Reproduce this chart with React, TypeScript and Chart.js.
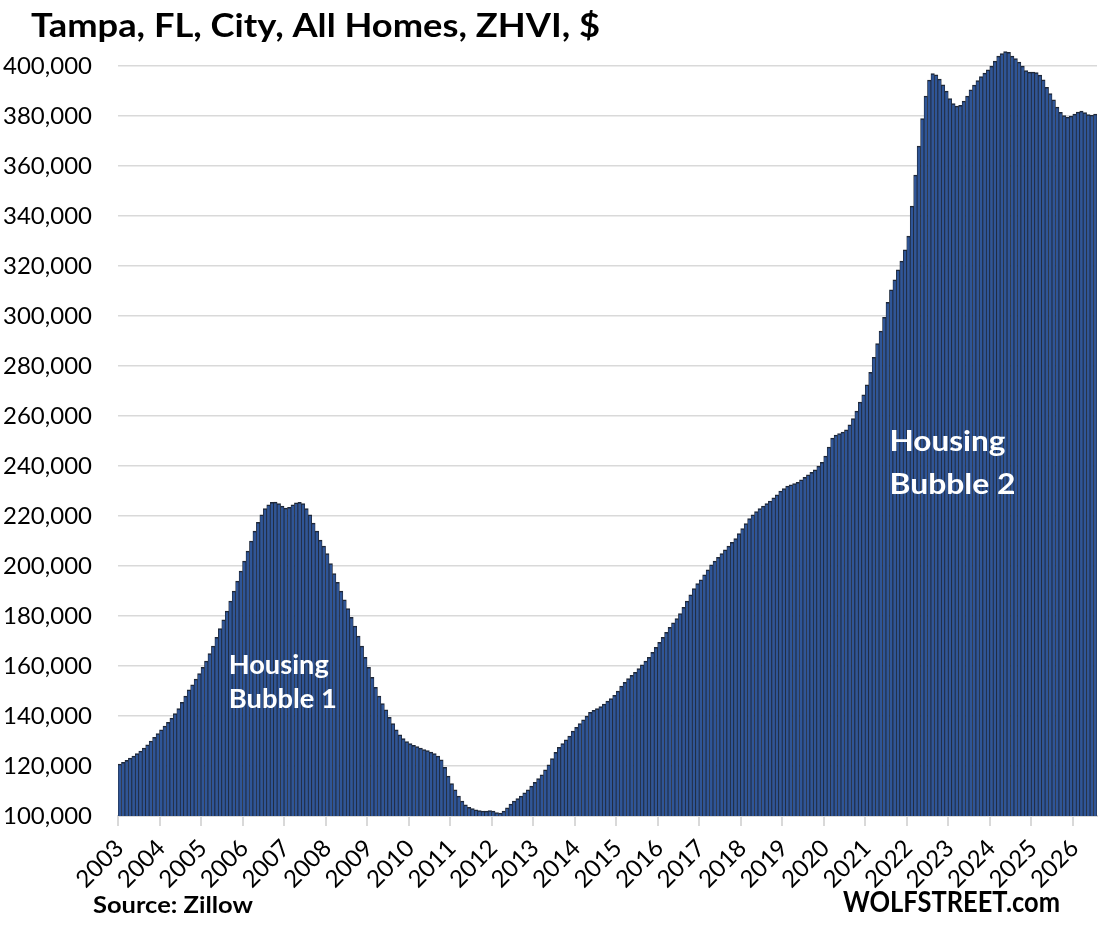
import React, { useEffect, useRef } from 'react';
import { Chart, registerables } from 'chart.js';

Chart.register(...registerables);

const titleText = 'Tampa, FL, City, All Homes, ZHVI, $';
const sourceText = 'Source: Zillow';
const brandText = 'WOLFSTREET.com';

const yearLabels = ['2003', '2004', '2005', '2006', '2007', '2008', '2009', '2010', '2011', '2012', '2013', '2014',
  '2015', '2016', '2017', '2018', '2019', '2020', '2021', '2022', '2023', '2024', '2025', '2026'];
const monthNames = ['Jan', 'Feb', 'Mar', 'Apr', 'May', 'Jun', 'Jul', 'Aug', 'Sep', 'Oct', 'Nov', 'Dec'];

const yTickValues = [100000, 120000, 140000, 160000, 180000, 200000, 220000, 240000, 260000, 280000,
  300000, 320000, 340000, 360000, 380000, 400000];

// Monthly ZHVI values, $
const zhvi2003to2006 = [
  120800, 121500, 122300, 123200, 124000, 125000, 126000, 127200, 128500, 130000, 131500, 133000,
  134500, 136000, 137500, 139200, 141000, 143000, 145500, 148000, 150500, 152500, 154800, 157000,
  159500, 162000, 165000, 168000, 171500, 175000, 178500, 182000, 186000, 190000, 194000, 198000,
  202000, 206000, 210000, 214000, 217500, 220500, 223000, 224500, 225500, 225600, 225000, 224000,
];
const zhvi2007to2010 = [
  223200, 223500, 224500, 225300, 225500, 225000, 223000, 220500, 217200, 214000, 210400, 208000,
  205000, 201000, 197000, 193500, 190000, 186500, 183000, 179500, 176000, 172000, 168000, 163500,
  159500, 155500, 151500, 148000, 145000, 142500, 139500, 137000, 134500, 132500, 131000, 129800,
  129000, 128300, 127800, 127200, 126600, 126200, 125600, 125000, 124000, 122500, 119500, 116000,
];
const zhvi2011to2014 = [
  113000, 110500, 108000, 106000, 104500, 103500, 103000, 102500, 102200, 102000, 102000, 102200,
  102000, 101400, 101200, 102000, 103300, 104800, 106000, 107000, 108000, 109300, 110500, 112000,
  113500, 115000, 116500, 118500, 120500, 123000, 125500, 127500, 129000, 130500, 132000, 134000,
  135500, 137000, 138500, 140000, 141500, 142300, 143000, 143800, 144800, 146000, 147000, 148300,
];
const zhvi2015to2018 = [
  150000, 152000, 153500, 155000, 156300, 157500, 159000, 160500, 162000, 163500, 165500, 167500,
  169500, 171500, 173500, 175500, 177300, 179000, 181000, 183500, 186000, 188500, 191000, 193000,
  194500, 196500, 198500, 200500, 202000, 203500, 205000, 206500, 208000, 209500, 211000, 213000,
  215000, 217000, 219000, 220500, 221800, 223000, 224000, 225000, 226000, 227300, 228500, 230000,
];
const zhvi2019to2022 = [
  231000, 232000, 232500, 233000, 233500, 234500, 235500, 236500, 237500, 238500, 240000, 241500,
  244000, 247600, 251200, 252400, 253000, 253600, 254500, 256500, 259000, 262000, 265600, 268500,
  272500, 277500, 283500, 289000, 294000, 299500, 305500, 310500, 314500, 318500, 322000, 326500,
  332000, 344000, 356400, 368000, 379000, 388000, 394400, 397000, 396500, 394800, 392500, 390000,
];
const zhvi2023to2026 = [
  387000, 385000, 384000, 384300, 386000, 388000, 390500, 392400, 394200, 395800, 397200, 398500,
  400000, 402000, 404000, 405000, 405800, 405500, 404000, 403000, 401600, 400000, 398200, 397600,
  397600, 397400, 396400, 394500, 391500, 389000, 386500, 383600, 381500, 380200, 379600, 380000,
  380800, 381600, 382000, 381400, 380600, 380400, 380800,
];

const zhvi = [
  ...zhvi2003to2006, ...zhvi2007to2010, ...zhvi2011to2014,
  ...zhvi2015to2018, ...zhvi2019to2022, ...zhvi2023to2026,
];
const categories = zhvi.map((_, i) => `${monthNames[i % 12]} ${yearLabels[Math.floor(i / 12)]}`);

// annotation anchors (category index, value)
const bubble1 = { lines: ['Housing', 'Bubble 1'], index: 32, values: [157000, 143400], size: 26, widths: [100, 108] };
const bubble2 = { lines: ['Housing', 'Bubble 2'], index: 223, values: [246000, 229000], size: 29, widths: [116, 126] };

function drawFitted(ctx: CanvasRenderingContext2D, text: string, x: number, y: number, width: number) {
  const w = ctx.measureText(text).width;
  ctx.save();
  ctx.translate(x, y);
  ctx.scale(width / w, 1);
  ctx.fillText(text, 0, 0);
  ctx.restore();
}

const textPlugin = {
  id: 'wolfTexts',
  afterDraw(chart: any) {
    const ctx = chart.ctx;
    const xs = chart.scales.x;
    const ys = chart.scales.y;
    ctx.save();
    ctx.textAlign = 'left';
    ctx.textBaseline = 'alphabetic';
    ctx.fillStyle = '#000000';
    ctx.font = 'bold 33px Lato';
    drawFitted(ctx, titleText, 31, 37, 569);
    ctx.font = 'bold 23px Lato';
    drawFitted(ctx, sourceText, 93, 913, 160);
    ctx.font = 'bold 28px Lato';
    drawFitted(ctx, brandText, 843, 912, 217);

    ctx.fillStyle = '#ffffff';
    [bubble1, bubble2].forEach((b) => {
      ctx.font = `bold ${b.size}px Lato`;
      const x = xs.getPixelForValue(b.index) - 1.7;
      b.lines.forEach((line, k) => {
        drawFitted(ctx, line, x, ys.getPixelForValue(b.values[k]), b.widths[k]);
      });
    });
    ctx.restore();
  },
};

export default function App() {
  const canvasRef = useRef<HTMLCanvasElement | null>(null);

  useEffect(() => {
    if (!canvasRef.current) return;
    const chart = new Chart(canvasRef.current, {
      type: 'bar',
      data: {
        labels: categories,
        datasets: [
          {
            data: zhvi,
            backgroundColor: '#2f5597',
            borderColor: '#1f2838',
            borderWidth: { top: 1.6, left: 0.8, right: 0.8, bottom: 0 },
            borderSkipped: 'start',
            barPercentage: 1,
            categoryPercentage: 1,
          },
        ],
      },
      options: {
        animation: false,
        responsive: false,
        devicePixelRatio: 1,
        layout: { padding: { left: 0, right: 8, top: 41, bottom: 0 } },
        plugins: {
          legend: { display: false },
          tooltip: { enabled: false },
          title: { display: false },
        },
        scales: {
          x: {
            type: 'category',
            offset: true,
            afterFit: (scale: any) => {
              scale.height = 110;
              scale.paddingRight = 0;
              scale.paddingLeft = 0;
            },
            grid: {
              display: true,
              offset: true,
              drawOnChartArea: false,
              drawTicks: true,
              tickLength: 10,
              lineWidth: 2,
              color: (c: any) => (c.index % 12 === 0 ? '#d9d9d9' : 'rgba(0,0,0,0)'),
            },
            border: { display: true, color: '#d9d9d9', width: 2 },
            ticks: {
              autoSkip: false,
              minRotation: 45,
              maxRotation: 45,
              padding: 8,
              color: '#000000',
              font: { family: 'Lato', size: 24 },
              callback: (_v: any, i: number) => (i % 12 === 0 ? yearLabels[Math.floor(i / 12)] : ''),
            },
          },
          y: {
            min: 100000,
            max: 410000,
            afterFit: (scale: any) => {
              scale.width = 118;
            },
            afterBuildTicks: (scale: any) => {
              scale.ticks = yTickValues.map((v) => ({ value: v }));
            },
            grid: {
              color: '#d9d9d9',
              lineWidth: 1.5,
              drawTicks: false,
            },
            border: { display: false },
            ticks: {
              padding: 26,
              color: '#000000',
              font: { family: 'Lato', size: 24 },
              callback: (v: any) => Number(v).toLocaleString('en-US'),
            },
          },
        },
      },
      plugins: [textPlugin],
    });
    return () => chart.destroy();
  }, []);

  return (
    <div style={{ position: 'absolute', left: 0, top: 0, width: 1105, height: 926, background: '#ffffff' }}>
      <canvas ref={canvasRef} width={1105} height={926} style={{ width: 1105, height: 926, display: 'block' }} />
    </div>
  );
}
